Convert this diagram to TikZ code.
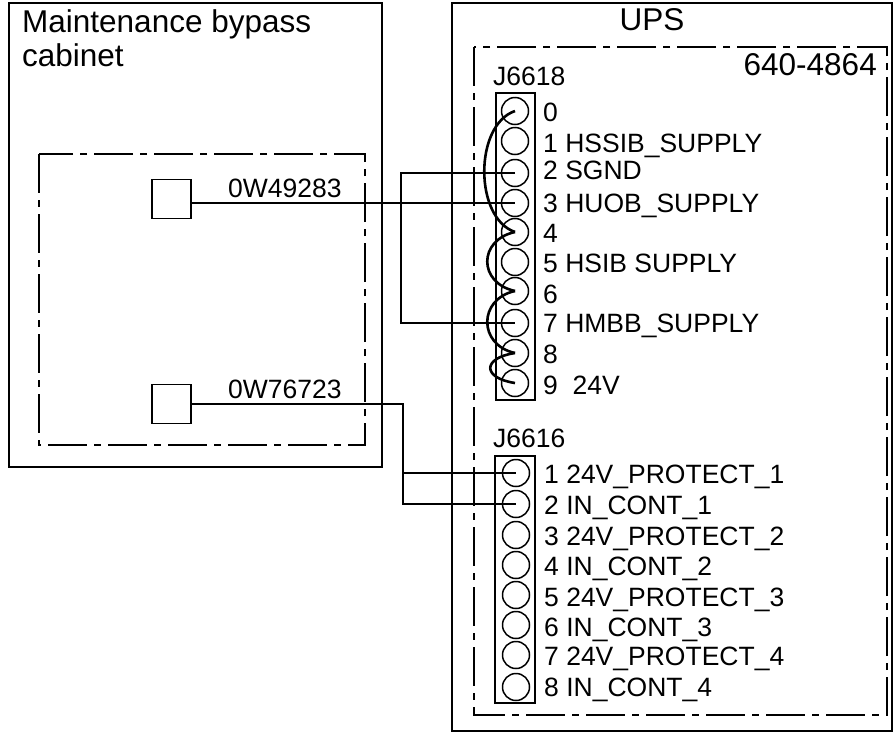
\documentclass[tikz,border=0pt]{standalone}
\usepackage{fontspec}
\setmainfont{Liberation Sans}
\begin{document}
\begin{tikzpicture}[x=1pt,y=-1pt,
  box/.style={line width=1.6pt},
  dashdot/.style={line width=1.6pt, dash pattern=on 39pt off 7pt on 7pt off 7pt},
  pin/.style={circle, draw, line width=1.5pt, minimum size=27pt, inner sep=0pt},
  sq/.style={draw, line width=1.5pt, minimum size=39pt, inner sep=0pt},
  wire/.style={line width=2.9pt},
  jump/.style={line width=2.6pt},
  lbl/.style={anchor=base west, inner sep=0pt, font=\fontsize{26.5}{30}\selectfont},
  big/.style={inner sep=0pt, font=\fontsize{31.5}{35}\selectfont}]
\useasboundingbox (0,0) rectangle (894,734);
% cabinets
\draw[box] (9,3) rectangle (382,467);
\draw[dashdot] (39,154) rectangle (365,445);
\draw[box] (452,3) rectangle (892,731);
\draw[dashdot] (474,47) rectangle (887,715);
% titles
\node[big, anchor=base west] (t1) at (22,32) {Maintenance bypass};
\node[big, anchor=base west] (t2) at (22,66) {cabinet};
\node[big, anchor=base] (ups) at (652,30) {UPS};
\node[big, anchor=base east] (pn) at (877,75) {640-4864};
% squares
\node[sq] (s1) at (171.5,199) {};
\node[sq] (s2) at (171.5,404) {};
\node[lbl] (w1) at (228,197) {0W49283};
\node[lbl] (w2) at (228,398) {0W76723};
% connector J6618
\node[lbl] (j18) at (493,85) {J6618};
\draw[box] (496,93) rectangle (535,400);
\foreach \i/\y in {0/111,1/141,2/173,3/203,4/232,5/262,6/291,7/323,8/353,9/383}
  \node[pin] (a\i) at (515,\y) {};
\node[lbl] (la0) at (543,121) {0};
\node[lbl] (la1) at (543,152) {1 HSSIB\_SUPPLY};
\node[lbl] (la2) at (543,179) {2 SGND};
\node[lbl] (la3) at (543,212) {3 HUOB\_SUPPLY};
\node[lbl] (la4) at (543,242) {4};
\node[lbl] (la5) at (543,272) {5 HSIB SUPPLY};
\node[lbl] (la6) at (543,303) {6};
\node[lbl] (la7) at (543,332) {7 HMBB\_SUPPLY};
\node[lbl] (la8) at (543,363) {8};
\node[lbl] (la9) at (543,394) {9\ \ 24V};
% connector J6616
\node[lbl] (j16) at (493,447) {J6616};
\draw[box] (495,456) rectangle (535,703);
\foreach \i/\y in {1/473,2/504,3/535,4/565,5/595,6/625,7/655,8/687}
  \node[pin] (b\i) at (516,\y) {};
\node[lbl] (lb1) at (544,483) {1 24V\_PROTECT\_1};
\node[lbl] (lb2) at (544,514) {2 IN\_CONT\_1};
\node[lbl] (lb3) at (544,545) {3 24V\_PROTECT\_2};
\node[lbl] (lb4) at (544,575) {4 IN\_CONT\_2};
\node[lbl] (lb5) at (544,606) {5 24V\_PROTECT\_3};
\node[lbl] (lb6) at (544,636) {6 IN\_CONT\_3};
\node[lbl] (lb7) at (544,665) {7 24V\_PROTECT\_4};
\node[lbl] (lb8) at (544,696) {8 IN\_CONT\_4};
% jumpers
\draw[jump] (a0.center) .. controls +(-41,14) and +(-41,-14) .. (a4.center);
\draw[jump] (a4.center) .. controls +(-37,8) and +(-37,-8) .. (a6.center);
\draw[jump] (a6.center) .. controls +(-37,8) and +(-37,-8) .. (a8.center);
\draw[jump] (a8.center) .. controls +(-33,5) and +(-33,-5) .. (a9.center);
% wires
\coordinate (bx) at (401,0);
\draw[wire] (a2.center) -- (a2.center -| bx) |- (a7.center);
\draw[wire] (a3.center -| s1.east) -- (a3.center);
\coordinate (by) at (403,0);
\draw[wire] (s2.east) -- (s2.east -| by) |- (b2.center);
\draw[wire] (b1.center -| by) -- (b1.center);
\end{tikzpicture}
\end{document}
